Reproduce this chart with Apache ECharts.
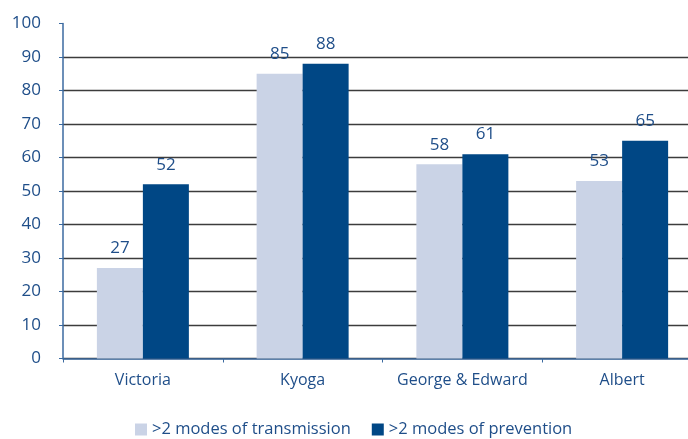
<!DOCTYPE html>
<html><head><meta charset="utf-8">
<script src="https://cdn.jsdelivr.net/npm/echarts@6/dist/echarts.min.js"></script>
<style>html,body{margin:0;padding:0;background:#fff}#c{width:688px;height:439px}</style>
</head><body><div id="c"></div>
<script>
const categories = ['Victoria', 'Kyoga', 'George & Edward', 'Albert'];
const transmission = [27, 85, 58, 53];
const prevention = [52, 88, 61, 65];
const seriesNames = ['>2 modes of transmission', '>2 modes of prevention'];

const blue = '#1f4e89';
const font = 'Open Sans';
const chart = echarts.init(document.getElementById('c'));
const gridColors = [];
for (let i = 0; i <= 10; i++) gridColors.push(i === 10 ? 'rgba(0,0,0,0)' : '#3c3c3c');
chart.setOption({
  animation: false,
  textStyle: { fontFamily: font },
  grid: { left: 63, top: 23.5, width: 639, height: 335, outerBoundsMode: 'none', containLabel: false },
  legend: {
    top: 416, left: 130, itemWidth: 12, itemHeight: 12, itemGap: 21,
    icon: 'rect',
    textStyle: { color: blue, fontSize: 16.5, fontFamily: font },
    data: seriesNames
  },
  xAxis: {
    type: 'category', data: categories,
    axisLine: { lineStyle: { color: '#3b6aa0', width: 1.5 } },
    axisTick: { show: true, length: 4, inside: false, interval: 0, lineStyle: { color: '#3b6aa0' } },
    axisLabel: { color: blue, fontSize: 16, margin: 14, interval: 0, fontFamily: font }
  },
  yAxis: {
    type: 'value', min: 0, max: 100, interval: 10,
    axisLine: { show: true, lineStyle: { color: '#3b6aa0', width: 1.5 } },
    axisTick: { show: true, length: 4, lineStyle: { color: '#3b6aa0' } },
    axisLabel: { color: blue, fontSize: 17, margin: 22, fontFamily: font },
    splitLine: { show: true, lineStyle: { color: gridColors, width: 1.3 } }
  },
  series: [
    { name: seriesNames[0], type: 'bar', data: transmission, barWidth: 46, barGap: '0%',
      itemStyle: { color: '#cad3e6' },
      label: { show: true, position: 'top', distance: 11, color: blue, fontSize: 17, fontFamily: font } },
    { name: seriesNames[1], type: 'bar', data: prevention, barWidth: 46,
      itemStyle: { color: '#004785' },
      label: { show: true, position: 'top', distance: 11, color: blue, fontSize: 17, fontFamily: font } }
  ]
});
</script></body></html>
